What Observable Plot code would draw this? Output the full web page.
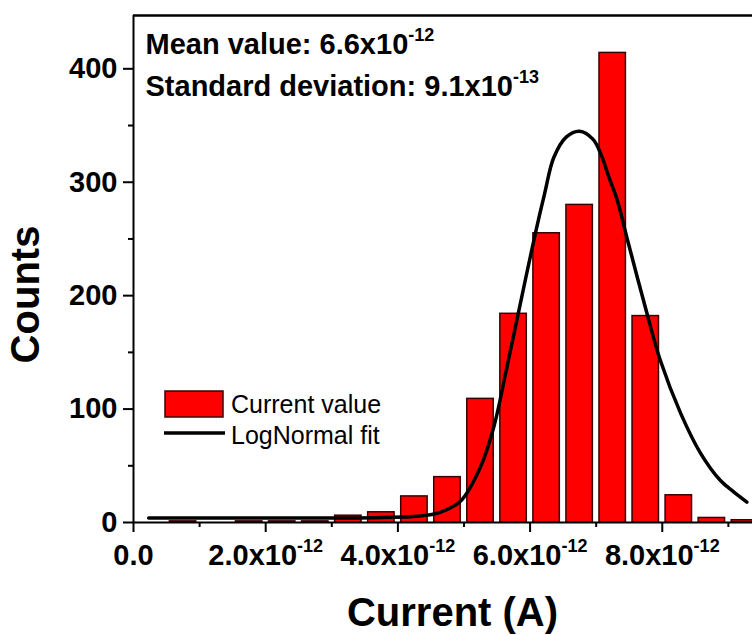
<!DOCTYPE html>
<html><head><meta charset="utf-8">
<script src="https://cdn.jsdelivr.net/npm/d3@7"></script>
<script src="https://cdn.jsdelivr.net/npm/@observablehq/plot@0.6"></script>
<style>
body{margin:0;background:#fff}
#chart svg{font-family:"Liberation Sans",Arial,sans-serif;background:#fff}
</style>
</head><body><div id="chart"></div>
<script>
// Histogram bins (centres in units of 1e-12 A) and counts
const binCenters = [0.75,1.75,2.25,2.75,3.25,3.75,4.25,4.75,5.25,5.75,6.25,6.75,7.25,7.75,8.25,8.75,9.25];
const binCounts  = [1,1,1,1,6,9,23,40,109,184,255,280,414,182,24,4,2];

// LogNormal fit curve (x in 1e-12 A)
const fitX = [0.23,1.0,2.0,3.0,3.8,4.3,4.64,4.95,5.25,5.45,5.65,5.82,6.08,6.22,6.36,6.55,6.75,6.95,7.07,7.19,7.32,7.47,7.77,7.97,8.28,8.58,8.88,9.08,9.28];
const fitY = [4,4,4,4,4.5,5.5,9,19,49,84,137,184,255,290,322,340,345,338,325,305,284,250,184,143,96,61,37,27,18];

// Axes
const xMajorTicks = [0,2,4,6,8];
const xMinorTicks = [1,3,5,7,9];
const xTickLabels = ["0.0","2.0x10^-12","4.0x10^-12","6.0x10^-12","8.0x10^-12"];
const yMajorTicks = [0,100,200,300,400];
const yMinorTicks = [50,150,250,350];
const xTitle = "Current (A)";
const yTitle = "Counts";
const legendLabels = ["Current value","LogNormal fit"];
const annotations = ["Mean value: 6.6x10^-12","Standard deviation: 9.1x10^-13"];

const bars = binCenters.map((c,i)=>({c, n: binCounts[i]}));
const fit = fitX.map((x,i)=>({x, y: fitY[i]}));
const xLabelMap = new Map(xMajorTicks.map((t,i)=>[t, xTickLabels[i]]));
const halfBar = 0.2;
const RED = "#ff0000", EDGE = "#3a0000";
const FONT = "'Liberation Sans', Arial, sans-serif";

const plot = Plot.plot({
  width: 752, height: 635,
  marginLeft: 133, marginRight: 0, marginTop: 15, marginBottom: 113,
  x: {domain: [0, 9.365], label: null},
  y: {domain: [0, 447], label: null},
  style: {fontFamily: FONT, background: "#fff"},
  marks: [
    Plot.rectY(bars, {x1: d=>d.c-halfBar, x2: d=>d.c+halfBar, y1: 0, y2: "n", fill: RED, stroke: EDGE, strokeWidth: 1.5, clip: true}),
    Plot.line(fit, {x: "x", y: "y", stroke: "black", strokeWidth: 3.5, curve: "catmull-rom"}),
    Plot.ruleY([447], {stroke: "black", strokeWidth: 2.5}),
    Plot.ruleY([0], {stroke: "black", strokeWidth: 2}),
    Plot.ruleX([0], {stroke: "black", strokeWidth: 2}),
    Plot.axisX(xMajorTicks, {tickSize: 10, tickPadding: 12, strokeWidth: 2, tickFormat: d=>xLabelMap.get(d), fontSize: 29, fontWeight: "bold", fill: "black", label: null}),
    Plot.axisX(xMinorTicks, {tickSize: 5, strokeWidth: 2, tickFormat: ()=>"", label: null}),
    Plot.axisY(yMajorTicks, {tickSize: 10, tickPadding: 6, strokeWidth: 2, fontSize: 29, fontWeight: "bold", fill: "black", label: null}),
    Plot.axisY(yMinorTicks, {tickSize: 5, strokeWidth: 2, tickFormat: ()=>"", label: null}),
    Plot.text([xTitle], {frameAnchor: "bottom", dx: 9.5, dy: 103, fontSize: 40, fontWeight: "bold", fill: "black"}),
    Plot.text([yTitle], {frameAnchor: "left", textAnchor: "middle", lineAnchor: "middle", rotate: -90, dx: -107, dy: 25.5, fontSize: 40, fontWeight: "bold", fill: "black"}),
    Plot.text([annotations[0]], {frameAnchor: "top-left", textAnchor: "start", dx: 12, dy: 18, fontSize: 29, fontWeight: "bold", fill: "black"}),
    Plot.text([annotations[1]], {frameAnchor: "top-left", textAnchor: "start", dx: 12, dy: 60, fontSize: 29, fontWeight: "bold", fill: "black"})
  ]
});

const svg = d3.select(plot);
// superscripts
svg.selectAll("text").each(function(){
  const t = this.textContent;
  if (t.includes("^")) {
    const [main, sup] = t.split("^");
    const sel = d3.select(this);
    sel.text(main);
    sel.append("tspan").attr("font-size", 18).attr("dy", -13).text(sup);
  }
});
// legend
const lg = svg.append("g").attr("font-family", FONT).attr("font-size", 25).attr("fill", "black").attr("text-anchor", "start");
lg.append("rect").attr("x", 165).attr("y", 391).attr("width", 58).attr("height", 26)
  .attr("fill", RED).attr("stroke", EDGE).attr("stroke-width", 1.5);
lg.append("line").attr("x1", 164).attr("x2", 225).attr("y1", 433).attr("y2", 433)
  .attr("stroke", "black").attr("stroke-width", 3.5);
lg.append("text").attr("x", 231).attr("y", 413).text(legendLabels[0]);
lg.append("text").attr("x", 231).attr("y", 444).text(legendLabels[1]);

document.getElementById("chart").appendChild(plot);
</script>
</body></html>
